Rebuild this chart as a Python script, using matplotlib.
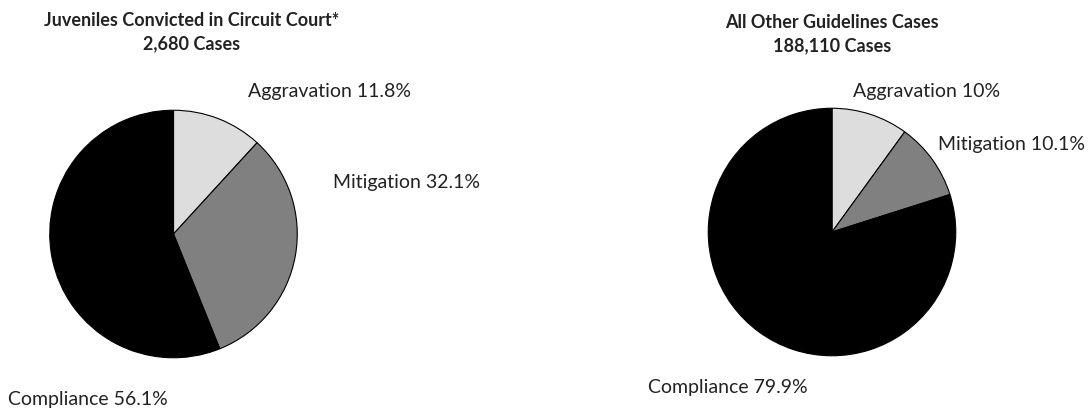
import matplotlib.pyplot as plt

categorias = ['Aggravation', 'Mitigation', 'Compliance']
juvenis = [11.8, 32.1, 56.1]
outros = [10, 10.1, 79.9]
titulos = [('Juveniles Convicted in Circuit Court*', '2,680 Cases'),
           ('All Other Guidelines Cases', '188,110 Cases')]

cores = ['#dddddd', '#808080', '#000000']
W, H = 1090, 408
fonte = 'Lato'
cor_txt = '#222222'

fig = plt.figure(figsize=(W / 100, H / 100), dpi=100)


def px(x, y):
    return x / W, 1 - y / H


def pizza(x0, y0, valores, titulo, tx, ty, pos_rotulos):
    # pie box in pixels: left/top corner + 250 px size
    ax = fig.add_axes([x0 / W, 1 - (y0 + 250) / H, 250 / W, 250 / H])
    ax.pie(valores, colors=cores, startangle=90, counterclock=False,
           wedgeprops=dict(edgecolor='black', linewidth=0.8))
    ax.set_xlim(-1.01, 1.01)
    ax.set_ylim(-1.01, 1.01)
    ax.axis('off')

    fig.text(*px(tx, ty), titulo[0], ha='center', va='center',
             fontsize=13, fontweight='bold', family=fonte, color=cor_txt)
    fig.text(*px(tx, ty + 23), titulo[1], ha='center', va='center',
             fontsize=13, fontweight='bold', family=fonte, color=cor_txt)

    for cat, v, (lx, ly) in zip(categorias, valores, pos_rotulos):
        fig.text(*px(lx, ly), f'{cat} {v:g}%', ha='left', va='center',
                 fontsize=14, family=fonte, color=cor_txt)


pizza(48.5, 109, juvenis, titulos[0], 192, 21,
      [(248, 92), (333, 183), (8, 399)])
pizza(707, 107, outros, titulos[1], 832, 23,
      [(853, 91), (938, 144), (648, 387)])

plt.savefig('out.png', dpi=100)
